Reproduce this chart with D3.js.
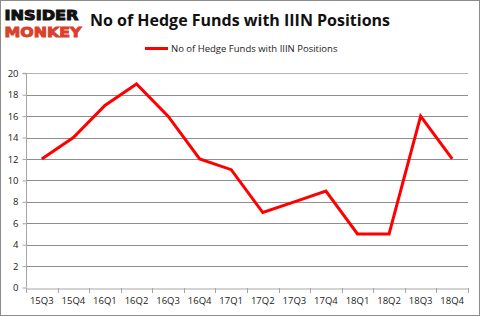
<!DOCTYPE html>
<html><head><meta charset="utf-8">
<script src="https://cdn.jsdelivr.net/npm/d3@7"></script>
<style>body{margin:0;background:#fff}svg{display:block}</style>
</head><body>
<script>
const categories = ["15Q3","15Q4","16Q1","16Q2","16Q3","16Q4","17Q1","17Q2","17Q3","17Q4","18Q1","18Q2","18Q3","18Q4"];
const values = [12,14,17,19,16,12,11,7,8,9,5,5,16,12];
const yTicks = [0,2,4,6,8,10,12,14,16,18,20];
const seriesName = "No of Hedge Funds with IIIN Positions";
const titleText = "No of Hedge Funds with IIIN Positions";

const W = 480, H = 316;
const svg = d3.select("body").append("svg").attr("width", W).attr("height", H);
svg.append("rect").attr("x",0.5).attr("y",0.5).attr("width",W-1).attr("height",H-1).attr("fill","#fff").attr("stroke","#8c8c8c");

const pL = 26, pR = 468, pT = 73.3, pB = 287.5;
const x = d3.scaleBand().domain(categories).range([pL, pR]);
const y = d3.scaleLinear().domain([0,20]).range([pB, pT]);
const font = "'Open Sans', 'Liberation Sans', sans-serif";

// gridlines
svg.append("g").selectAll("line").data(yTicks.filter(d=>d>0)).join("line")
  .attr("x1", pL).attr("x2", pR)
  .attr("y1", d=>Math.round(y(d))+0.5).attr("y2", d=>Math.round(y(d))+0.5)
  .attr("stroke", d=>d===20?"#b4b4b4":"#8e8e8e").attr("stroke-width",1);

// y axis
const ya = svg.append("g").attr("transform", `translate(${pL+0.5},0)`)
  .call(d3.axisLeft(y).tickValues(yTicks).tickSize(4).tickPadding(4));
ya.select(".domain").attr("stroke","#a6a6a6").attr("d", `M-4,${pT}H0V${pB}`);
ya.selectAll(".tick line").attr("stroke","#a6a6a6");
ya.selectAll(".tick text").attr("font-family", font).attr("font-size", 9.5).attr("fill","#222");

// x axis
const xa = svg.append("g").attr("transform", `translate(0,${Math.round(pB)+0.5})`)
  .call(d3.axisBottom(x).tickSize(0).tickPadding(9));
xa.select(".domain").attr("stroke","#a6a6a6");
xa.selectAll(".tick text").attr("font-family", font).attr("font-size", 9.5).attr("fill","#222");
svg.append("g").selectAll("line").data(d3.range(categories.length+1)).join("line")
  .attr("x1", i=>Math.round(pL + i*x.step())+0.5).attr("x2", i=>Math.round(pL + i*x.step())+0.5)
  .attr("y1", Math.round(pB)).attr("y2", Math.round(pB)+5)
  .attr("stroke","#a6a6a6");

// line
const line = d3.line().x((d,i)=>x(categories[i])+x.bandwidth()/2).y(d=>y(d));
svg.append("path").datum(values).attr("d", line).attr("fill","none")
  .attr("stroke","#ff0000").attr("stroke-width",3).attr("stroke-linejoin","miter");

// title
svg.append("text").attr("x", 240).attr("y", 26).attr("text-anchor","middle")
  .attr("font-family", font).attr("font-weight","bold").attr("font-size", 16).attr("fill","#111")
  .text(titleText);

// legend
svg.append("line").attr("x1",145).attr("x2",168).attr("y1",48.5).attr("y2",48.5)
  .attr("stroke","#ff0000").attr("stroke-width",3);
svg.append("text").attr("x",171).attr("y",52).attr("font-family", font).attr("font-size",9.5).attr("fill","#222")
  .text(seriesName);

// logo
svg.append("text").attr("x",4.5).attr("y",19.5).attr("font-family","'DejaVu Sans', sans-serif").attr("font-weight","bold")
  .attr("font-size",14.5).attr("textLength",74).attr("lengthAdjust","spacingAndGlyphs").attr("fill","#111")
  .attr("stroke","#111").attr("stroke-width",1).text("INSIDER");
svg.append("text").attr("x",4.5).attr("y",37).attr("font-family","'DejaVu Sans', sans-serif").attr("font-weight","bold")
  .attr("font-size",14.5).attr("textLength",77).attr("lengthAdjust","spacingAndGlyphs").attr("fill","#d9412b")
  .attr("stroke","#d9412b").attr("stroke-width",1).text("MONKEY");
</script>
</body></html>
